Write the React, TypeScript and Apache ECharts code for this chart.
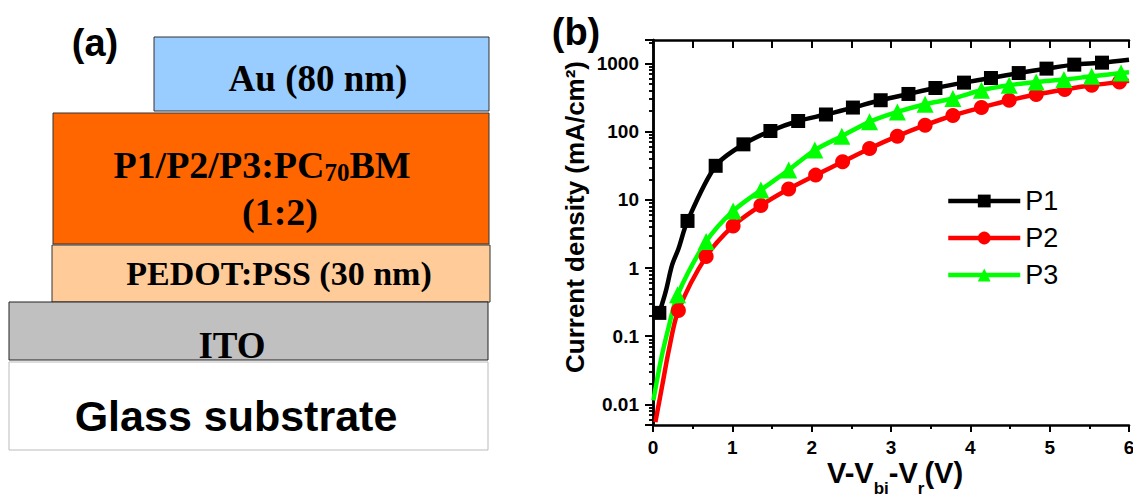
import React, { useEffect, useRef } from "react";
import * as echarts from "echarts";

// ---- data ----
const seriesNames = ["P1", "P2", "P3"];

// points carrying markers
const p1X = [0.08, 0.435, 0.79, 1.14, 1.48, 1.83, 2.18, 2.52, 2.87, 3.22, 3.56, 3.92, 4.26, 4.61, 4.96, 5.31, 5.66];
const p1Y = [0.22, 4.9, 31.5, 65, 102, 143, 178, 225, 288, 356, 435, 522, 610, 721, 837, 958, 1024];
// points on the line without markers
const p1LineX = [0.16, 0.24, 0.32, 6.0];
const p1LineY = [0.45, 1.1, 1.9, 1130];

const p2X = [0.32, 0.67, 1.01, 1.36, 1.71, 2.05, 2.39, 2.73, 3.08, 3.43, 3.78, 4.14, 4.49, 4.83, 5.19, 5.53, 5.88];
const p2Y = [0.239, 1.47, 4.14, 8.26, 14.4, 23, 36, 56.6, 85.7, 124, 172, 225, 288, 349, 413, 477, 533];
const p2LineX = [0.03, 0.12, 0.2, 6.0];
const p2LineY = [0.0055, 0.02, 0.063, 555];

const p3X = [0.31, 0.67, 1.01, 1.36, 1.71, 2.04, 2.38, 2.73, 3.08, 3.43, 3.78, 4.14, 4.49, 4.83, 5.18, 5.53, 5.9];
const p3Y = [0.405, 2.44, 6.86, 13.9, 27.3, 53.5, 85.7, 139, 194, 252, 305, 403, 477, 533, 578, 646, 721];
const p3LineX = [0.005, 0.1, 0.2, 6.0];
const p3LineY = [0.0115, 0.045, 0.14, 740];

const xMin = 0;
const xMax = 6;
const yMin = 0.005;
const yMax = 2200;

const yTitle = "Current density (mA/cm²)";
const xTitle = "{m|V-V}{s|bi}{m|-V}{s|r}{m|(V)}";

// device stack labels (panel a)
const layerLabels = ["Au (80 nm)", "P1/P2/P3:PC{s|70}BM", "(1:2)", "PEDOT:PSS (30 nm)", "ITO", "Glass substrate"];

function build(mx: number[], my: number[], lx: number[], ly: number[]) {
  const pts: any[] = mx.map((x, i) => ({ value: [x, my[i]] }));
  lx.forEach((x, i) => pts.push({ value: [x, ly[i]], symbol: "none" }));
  pts.sort((a, b) => a.value[0] - b.value[0]);
  return pts;
}

const SANS = "Liberation Sans";
const SERIF = "Liberation Serif";

export default function App() {
  const ref = useRef<HTMLDivElement>(null);
  useEffect(() => {
    if (!ref.current) return;
    const chart = echarts.init(ref.current, undefined, { renderer: "svg" });

    const serifBold = (size: number) => ({
      fontFamily: SERIF,
      fontWeight: "bold",
      fontSize: size,
      fill: "#000",
      align: "center",
      verticalAlign: "middle",
    });

    const graphic: any[] = [
      // panel labels
      { type: "text", x: 95, y: 43, style: { text: "(a)", fontFamily: SANS, fontWeight: "bold", fontSize: 38, fill: "#000", align: "center", verticalAlign: "middle" } },
      { type: "text", x: 576, y: 32, style: { text: "(b)", fontFamily: SANS, fontWeight: "bold", fontSize: 38, fill: "#000", align: "center", verticalAlign: "middle" } },
      // layers
      { type: "rect", shape: { x: 154, y: 37, width: 335, height: 74 }, style: { fill: "#99CCFF", stroke: "#333", lineWidth: 1 } },
      { type: "rect", shape: { x: 53, y: 113, width: 436, height: 131 }, style: { fill: "#FF6600", stroke: "#333", lineWidth: 1 } },
      { type: "rect", shape: { x: 52, y: 245, width: 438, height: 57 }, style: { fill: "#FFCC99", stroke: "#333", lineWidth: 1 } },
      { type: "rect", shape: { x: 9, y: 302, width: 479, height: 58 }, style: { fill: "#C0C0C0", stroke: "#222", lineWidth: 1 } },
      { type: "rect", shape: { x: 9, y: 362, width: 479, height: 88 }, style: { fill: "#FFFFFF", stroke: "#BBBBBB", lineWidth: 1 } },
      { type: "text", x: 318, y: 78, style: { text: layerLabels[0], ...serifBold(37) } },
      {
        type: "text", x: 262, y: 165,
        style: {
          text: layerLabels[1], ...serifBold(38),
          rich: { s: { fontFamily: SERIF, fontWeight: "bold", fontSize: 25, fill: "#000", padding: [14, 0, 0, 0] } },
        },
      },
      { type: "text", x: 280, y: 212, style: { text: layerLabels[2], ...serifBold(38) } },
      { type: "text", x: 279, y: 273, style: { text: layerLabels[3], ...serifBold(34) } },
      { type: "text", x: 232, y: 345, style: { text: layerLabels[4], ...serifBold(37) } },
      { type: "text", x: 236, y: 416, style: { text: layerLabels[5], fontFamily: SANS, fontWeight: "bold", fontSize: 43, fill: "#000", align: "center", verticalAlign: "middle" } },
      // axis titles (panel b)
      { type: "text", x: 575, y: 217, rotation: Math.PI / 2, style: { text: yTitle, fontFamily: SANS, fontWeight: "bold", fontSize: 26, fill: "#000", align: "center", verticalAlign: "middle" } },
      {
        type: "text", x: 895, y: 497,
        style: {
          text: xTitle, fill: "#000", align: "center", verticalAlign: "bottom",
          rich: {
            m: { fontFamily: SANS, fontWeight: "bold", fontSize: 29, lineHeight: 48, fill: "#000" },
            s: { fontFamily: SANS, fontWeight: "bold", fontSize: 17, lineHeight: 17, padding: [31, 0, 0, 0], verticalAlign: "bottom", fill: "#000" },
          },
        },
      },
    ];

    const axisLineStyle = { color: "#000", width: 2.5 };
    const tickLabel = { fontFamily: SANS, fontWeight: "bold", fontSize: 19, color: "#000" };

    const option: any = {
      animation: false,
      backgroundColor: "#fff",
      graphic,
      grid: { left: 653, top: 40, width: 476, height: 385, outerBoundsMode: "none", containLabel: false },
      legend: {
        orient: "vertical",
        left: 941,
        top: 182,
        itemWidth: 72,
        itemHeight: 16,
        itemGap: 9,
        data: seriesNames,
        lineStyle: { width: 4.5 },
        textStyle: { fontFamily: SANS, fontSize: 27, color: "#000", lineHeight: 28 },
      },
      xAxis: [
        {
          type: "value", position: "bottom", min: xMin, max: xMax, interval: 1,
          axisLine: { show: true, lineStyle: axisLineStyle },
          axisTick: { show: true, inside: false, length: 7, lineStyle: { color: "#000", width: 2 } },
          minorTick: { show: true, splitNumber: 2, length: 4, lineStyle: { color: "#000", width: 2 } },
          splitLine: { show: false },
          axisLabel: { ...tickLabel, margin: 13 },
        },
        {
          type: "value", position: "top", min: xMin, max: xMax, interval: 1,
          axisLine: { show: true, lineStyle: axisLineStyle },
          axisTick: { show: true, inside: true, length: 8, lineStyle: { color: "#000", width: 2 } },
          minorTick: { show: true, splitNumber: 2, length: 8, lineStyle: { color: "#000", width: 2 } },
          splitLine: { show: false },
          axisLabel: { show: false },
        },
      ],
      yAxis: [
        {
          type: "log", logBase: 10, position: "left", min: yMin, max: yMax,
          axisLine: { show: true, lineStyle: axisLineStyle },
          axisTick: { show: true, inside: false, length: 8, lineStyle: { color: "#000", width: 2 } },
          minorTick: { show: true, splitNumber: 9, length: 4, lineStyle: { color: "#000", width: 1.5 } },
          splitLine: { show: false },
          axisLabel: {
            ...tickLabel, margin: 14, showMinLabel: false, showMaxLabel: false,
            formatter: (v: number) => String(Number(v.toPrecision(6))),
          },
        },
        {
          type: "log", logBase: 10, position: "right", min: yMin, max: yMax,
          axisLine: { show: true, lineStyle: axisLineStyle },
          axisTick: { show: true, inside: true, length: 8, lineStyle: { color: "#000", width: 2 } },
          minorTick: { show: true, splitNumber: 9, length: 4, lineStyle: { color: "#000", width: 1.5 } },
          splitLine: { show: false },
          axisLabel: { show: false },
        },
      ],
      series: [
        {
          name: seriesNames[0], type: "line", smooth: 0.3, xAxisIndex: 0, yAxisIndex: 0,
          symbol: "rect", symbolSize: 14,
          lineStyle: { color: "#000", width: 4.5 }, itemStyle: { color: "#000" },
          data: build(p1X, p1Y, p1LineX, p1LineY),
        },
        {
          name: seriesNames[1], type: "line", smooth: 0.3, xAxisIndex: 0, yAxisIndex: 0,
          symbol: "circle", symbolSize: 15,
          lineStyle: { color: "#FF0000", width: 4.5 }, itemStyle: { color: "#FF0000" },
          data: build(p2X, p2Y, p2LineX, p2LineY),
        },
        {
          name: seriesNames[2], type: "line", smooth: 0.3, xAxisIndex: 0, yAxisIndex: 0,
          symbol: "triangle", symbolSize: 17,
          lineStyle: { color: "#00FF00", width: 4.5 }, itemStyle: { color: "#00FF00" },
          data: build(p3X, p3Y, p3LineX, p3LineY),
        },
      ],
    };
    chart.setOption(option);
    return () => chart.dispose();
  }, []);

  return (
    <div
      ref={ref}
      style={{ position: "fixed", left: 0, top: 0, width: 1133, height: 497, background: "#fff" }}
    />
  );
}
